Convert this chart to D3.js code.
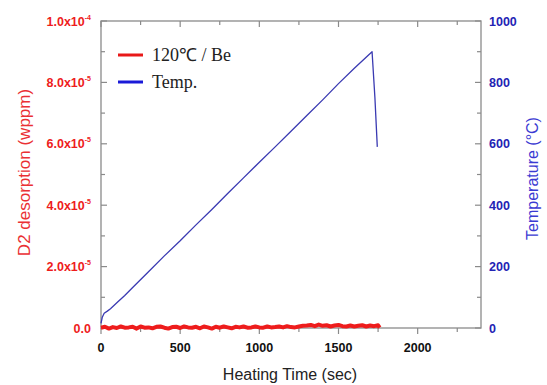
<!DOCTYPE html>
<html>
<head>
<meta charset="utf-8">
<script src="https://cdn.jsdelivr.net/npm/d3@7"></script>
<style>
  body { margin: 0; background: #fff; }
  text { font-family: "Liberation Sans", Arial, sans-serif; }
</style>
</head>
<body>
<svg id="chart" width="547" height="385"></svg>
<script>
// heating time (sec) / temperature (degC)
var tempTime = [0, 8, 20, 40, 60, 100, 150, 200, 300, 400, 500, 600, 700, 800, 900, 1000,
  1100, 1200, 1300, 1400, 1500, 1600, 1712, 1730, 1745];
var tempValue = [15, 35, 48, 55, 63, 82, 106, 132, 183, 235, 284, 336, 386, 438, 489, 540,
  590, 641, 692, 743, 796, 846, 900, 750, 590];

// D2 desorption, in units of 1e-7 wppm
var d2Time = [0, 25, 50, 75, 100, 125, 150, 175, 200, 225, 250, 275, 300, 325, 350, 375, 400,
  425, 450, 475, 500, 525, 550, 575, 600, 625, 650, 675, 700, 725, 750, 775, 800, 825, 850,
  875, 900, 925, 950, 975, 1000, 1025, 1050, 1075, 1100, 1125, 1150, 1175, 1200, 1225, 1250,
  1275, 1300, 1325, 1350, 1375, 1400, 1425, 1450, 1475, 1500, 1525, 1550, 1575, 1600, 1625,
  1650, 1675, 1700, 1725, 1750, 1760];
var d2Value = [1, 4, -2, 3, 0, 5, 1, 2, 4, -2, 5, 1, 2, -1, 4, 5, 1, -2, 3, 4, 0, 5, 2, 1, 4, -1,
  5, 2, -2, 4, 1, 5, 2, -1, 4, 2, 5, 1, 2, 5, 2, 1, 5, 2, 3, 5, 2, 6, 3, 2, 5,
  7, 8, 10, 6, 11, 7, 9, 5, 8, 10, 6, 5, 8, 5, 7, 9, 5, 8, 6, 9, 1];

var xTicks = [0, 500, 1000, 1500, 2000];
var xMinor = [250, 750, 1250, 1750, 2250];
var leftTicks = [0, 2e-5, 4e-5, 6e-5, 8e-5, 1e-4];
var leftMinor = [1e-5, 3e-5, 5e-5, 7e-5, 9e-5];
var leftMant = ["0.0", "2.0x10", "4.0x10", "6.0x10", "8.0x10", "1.0x10"];
var leftExp = ["", "-5", "-5", "-5", "-5", "-4"];
var rightTicks = [0, 200, 400, 600, 800, 1000];
var rightMinor = [100, 300, 500, 700, 900];

var red = "#ee1c1c", blue = "#3a3ab2", grey = "#8a8a8a";

var svg = d3.select("#chart"),
  margin = { top: 21, right: 66, bottom: 57, left: 101 },
  width = +svg.attr("width"),
  height = +svg.attr("height");

var x = d3.scaleLinear().domain([0, 2400]).range([margin.left, width - margin.right]);
var yL = d3.scaleLinear().domain([0, 1e-4]).range([height - margin.bottom, margin.top]);
var yR = d3.scaleLinear().domain([0, 1000]).range([height - margin.bottom, margin.top]);

var x0 = margin.left, x1 = width - margin.right,
  yb = height - margin.bottom, yt = margin.top;

// frame
svg.append("rect")
  .attr("x", x0).attr("y", yt)
  .attr("width", x1 - x0).attr("height", yb - yt)
  .attr("fill", "none").attr("stroke", grey).attr("stroke-width", 1.3);

var ticks = svg.append("g").attr("stroke", grey).attr("stroke-width", 1.2);

// bottom ticks (outward), top ticks (inward)
xTicks.concat(xMinor).forEach(function (v) {
  var len = xTicks.includes(v) ? 6 : 4;
  ticks.append("line").attr("x1", x(v)).attr("x2", x(v)).attr("y1", yb).attr("y2", yb + len);
  ticks.append("line").attr("x1", x(v)).attr("x2", x(v)).attr("y1", yt).attr("y2", yt + len);
});
leftTicks.concat(leftMinor).forEach(function (v) {
  var len = leftTicks.includes(v) ? 6 : 4;
  ticks.append("line").attr("x1", x0).attr("x2", x0 + len).attr("y1", yL(v)).attr("y2", yL(v));
});
rightTicks.concat(rightMinor).forEach(function (v) {
  var len = rightTicks.includes(v) ? 6 : 4;
  ticks.append("line").attr("x1", x1).attr("x2", x1 - len).attr("y1", yR(v)).attr("y2", yR(v));
});

// tick labels
svg.selectAll(".xlab").data(xTicks).enter().append("text")
  .attr("class", "xlab")
  .attr("x", d => x(d)).attr("y", yb + 24)
  .attr("text-anchor", "middle")
  .attr("font-size", 12.5).attr("font-weight", "bold").attr("fill", "#111")
  .text(d => d);

var ll = svg.selectAll(".llab").data(leftTicks).enter().append("text")
  .attr("class", "llab")
  .attr("x", x0 - 10).attr("y", d => yL(d) + 4.5)
  .attr("text-anchor", "end")
  .attr("font-size", 12.5).attr("font-weight", "bold").attr("fill", red);
ll.append("tspan").text((d, i) => leftMant[i]);
ll.append("tspan").attr("font-size", 7).attr("dy", -6).text((d, i) => leftExp[i]);

svg.selectAll(".rlab").data(rightTicks).enter().append("text")
  .attr("class", "rlab")
  .attr("x", x1 + 8).attr("y", d => yR(d) + 4.5)
  .attr("font-size", 12.5).attr("font-weight", "bold").attr("fill", "#2323b4")
  .text(d => d);

// axis titles
svg.append("text")
  .attr("x", (x0 + x1) / 2 - 1).attr("y", height - 5)
  .attr("text-anchor", "middle").attr("font-size", 16).attr("fill", "#222")
  .text("Heating Time (sec)");

svg.append("text")
  .attr("transform", "translate(30," + ((yt + yb) / 2 - 2) + ") rotate(-90)")
  .attr("text-anchor", "middle").attr("font-size", 17).attr("fill", "#ea3034")
  .text("D2 desorption (wppm)");

svg.append("text")
  .attr("transform", "translate(538," + ((yt + yb) / 2 + 4) + ") rotate(-90)")
  .attr("text-anchor", "middle").attr("font-size", 16).attr("fill", "#3b3bd2")
  .text("Temperature (°C)");

// lines
var d2Data = d2Time.map((t, i) => ({ t: t, v: d2Value[i] * 1e-7 }));
var tempData = tempTime.map((t, i) => ({ t: t, v: tempValue[i] }));

svg.append("path")
  .datum(tempData)
  .attr("fill", "none").attr("stroke", blue).attr("stroke-width", 1.3)
  .attr("stroke-linejoin", "round")
  .attr("d", d3.line().x(d => x(d.t)).y(d => yR(d.v)));

svg.append("path")
  .datum(d2Data)
  .attr("fill", "none").attr("stroke", red).attr("stroke-width", 4)
  .attr("stroke-linejoin", "round")
  .attr("d", d3.line().x(d => x(d.t)).y(d => yL(d.v)));

// legend
var legend = [{ name: "120\u2103 / Be", color: "#e81818" }, { name: "Temp.", color: "#1a1ad8" }];
var lg = svg.selectAll(".legend").data(legend).enter().append("g")
  .attr("class", "legend")
  .attr("transform", (d, i) => "translate(118," + (55 + i * 27) + ")");
lg.append("line").attr("x1", 0).attr("x2", 25)
  .attr("stroke", d => d.color).attr("stroke-width", 3);
lg.append("text").attr("x", 34).attr("y", 6)
  .style("font-family", "'Liberation Serif', 'Times New Roman', serif")
  .attr("font-size", 18).attr("fill", "#222")
  .text(d => d.name);
</script>
</body>
</html>
